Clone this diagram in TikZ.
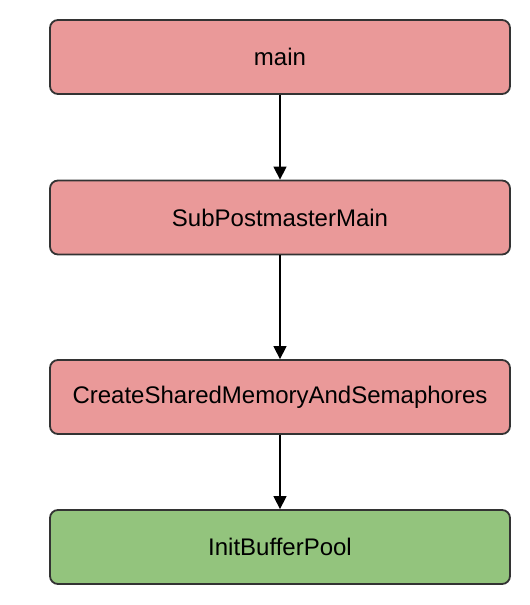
\documentclass[tikz,border=0pt]{standalone}
\usepackage{fontspec}
\setmainfont{Liberation Sans}
\usetikzlibrary{arrows.meta}
\definecolor{redfill}{HTML}{EA9999}
\definecolor{greenfill}{HTML}{93C47D}
\definecolor{edge}{HTML}{333333}
\tikzset{
  fnbox/.style={draw=edge, line width=1.8pt, rounded corners=8pt, minimum width=460pt, minimum height=74pt, inner sep=0pt, font=\fontsize{24}{28}\selectfont, anchor=center},
  redbox/.style={fnbox, fill=redfill},
  greenbox/.style={fnbox, fill=greenfill},
  conn/.style={draw=black, line width=1.4pt, -{Triangle[length=13pt,width=13pt]}}
}
\begin{document}
\begin{tikzpicture}[x=1pt,y=-1pt]
\useasboundingbox (0,0) rectangle (530,605);
\node[redbox] (main) at (280,57) {main};
\node[redbox] (sub) at (280,217.5) {SubPostmasterMain};
\node[redbox] (csm) at (280,397) {CreateSharedMemoryAndSemaphores};
\node[greenbox] (ibp) at (280,547) {InitBufferPool};
\draw[conn] (main) -- (sub);
\draw[conn] (sub) -- (csm);
\draw[conn] (csm) -- (ibp);
\end{tikzpicture}
\end{document}
